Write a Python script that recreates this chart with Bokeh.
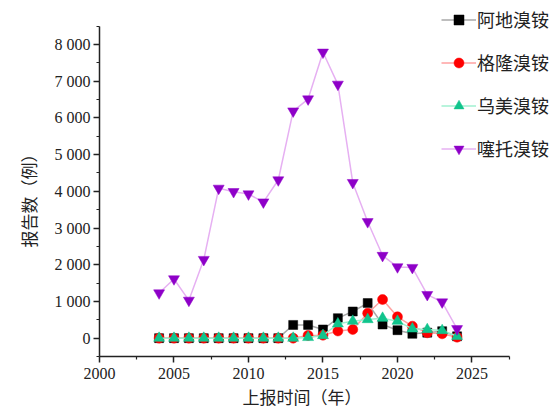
from bokeh.plotting import figure
from bokeh.models import Range1d, FixedTicker, Legend, LegendItem, Title
from bokeh.embed import file_html
from bokeh.resources import INLINE

years = list(range(2004, 2025))
adi = [0, 0, 0, 0, 0, 0, 0, 0, 0, 360, 360, 236, 544, 726, 955, 372, 217, 119, 150, 190, 50]
glo = [0, 0, 0, 0, 0, 0, 0, 0, 0, 0, 75, 80, 195, 236, 680, 1052, 581, 326, 146, 119, 27]
umec = [0, 0, 0, 0, 0, 0, 0, 0, 0, 0, 20, 73, 391, 462, 508, 544, 462, 254, 236, 209, 50]
tio = [1230, 1613, 1030, 2141, 4082, 3991, 3927, 3708, 4310, 6187, 6515, 7790, 6916, 4237,
       3171, 2251, 1941, 1923, 1185, 984, 255]

names = ["阿地溴铵", "格隆溴铵", "乌美溴铵", "噻托溴铵"]
x_title = "上报时间（年）"
y_title = "报告数（例）"
y_ticks = [0, 1000, 2000, 3000, 4000, 5000, 6000, 7000, 8000]
y_tick_labels = ["0", "1 000", "2 000", "3 000", "4 000", "5 000", "6 000", "7 000", "8 000"]
y_minor = [-500, 500, 1500, 2500, 3500, 4500, 5500, 6500, 7500, 8500]
x_ticks = [2000, 2005, 2010, 2015, 2020, 2025]
x_minor = [2002.5, 2007.5, 2012.5, 2017.5, 2022.5, 2027.5]

W, H = 554, 414
p = figure(width=W, height=H, output_backend="svg", toolbar_location=None,
           x_range=Range1d(2000, 2030.54), y_range=Range1d(-500, 9200),
           min_border_left=99, min_border_right=0, min_border_top=0, min_border_bottom=58)
p.outline_line_color = None
p.xgrid.visible = False
p.ygrid.visible = False
p.background_fill_color = "white"
p.border_fill_color = "white"

p.yaxis.ticker = FixedTicker(ticks=y_ticks, minor_ticks=y_minor)
p.yaxis.major_label_overrides = {t: l for t, l in zip(y_ticks, y_tick_labels)}
p.xaxis.ticker = FixedTicker(ticks=x_ticks, minor_ticks=x_minor)
p.yaxis.bounds = (-500, 8500)
p.xaxis.bounds = (2000, 2027.5)

for ax in (p.xaxis[0], p.yaxis[0]):
    ax.axis_line_color = "#222222"
    ax.axis_line_width = 1.5
    ax.major_tick_line_color = "#222222"
    ax.minor_tick_line_color = "#222222"
    ax.major_tick_line_width = 1.5
    ax.minor_tick_line_width = 1.2
    ax.major_tick_out = 6
    ax.major_tick_in = 0
    ax.minor_tick_out = 3
    ax.minor_tick_in = 0
    ax.major_label_text_font = "Liberation Serif"
    ax.major_label_text_font_size = "16px"
    ax.major_label_text_color = "#222222"

p.xaxis.major_label_standoff = 5
p.yaxis.major_label_standoff = 3

tx = Title(text=x_title, align="left", offset=143, standoff=1,
           text_font="Noto Sans CJK SC", text_font_size="17px",
           text_font_style="normal", text_color="#222222")
p.add_layout(tx, "below")
ty = Title(text=y_title, align="left", offset=109, standoff=22,
           text_font="Noto Sans CJK SC", text_font_size="17px",
           text_font_style="normal", text_color="#222222")
p.add_layout(ty, "left")

series = [adi, glo, umec, tio]
line_colors = ["#a8a8a8", "#ffa0a0", "#a0f0d0", "#e6b0f2"]
mark_colors = ["#000000", "#ff0000", "#10c48c", "#8e00c8"]
markers = ["square", "circle", "triangle", "inverted_triangle"]
sizes = [9, 10, 11, 11]

items = []
for name, vals, lc, mc, mk, sz in zip(names, series, line_colors, mark_colors, markers, sizes):
    ln = p.line(years, vals, line_color=lc, line_width=1.5)
    sc = p.scatter(years, vals, marker=mk, size=sz, fill_color=mc, line_color=mc, line_width=0.5)
    items.append(LegendItem(label=name, renderers=[ln, sc]))

legend = Legend(items=items, location=(342, 195), orientation="vertical",
                glyph_width=35, glyph_height=25, label_height=25, spacing=17,
                padding=0, margin=0, label_standoff=1,
                label_text_font="Noto Sans CJK SC", label_text_font_size="18px",
                label_text_color="#222222", border_line_color=None,
                background_fill_alpha=0)
p.add_layout(legend, "center")

open("out.html", "w").write(file_html(p, INLINE))
